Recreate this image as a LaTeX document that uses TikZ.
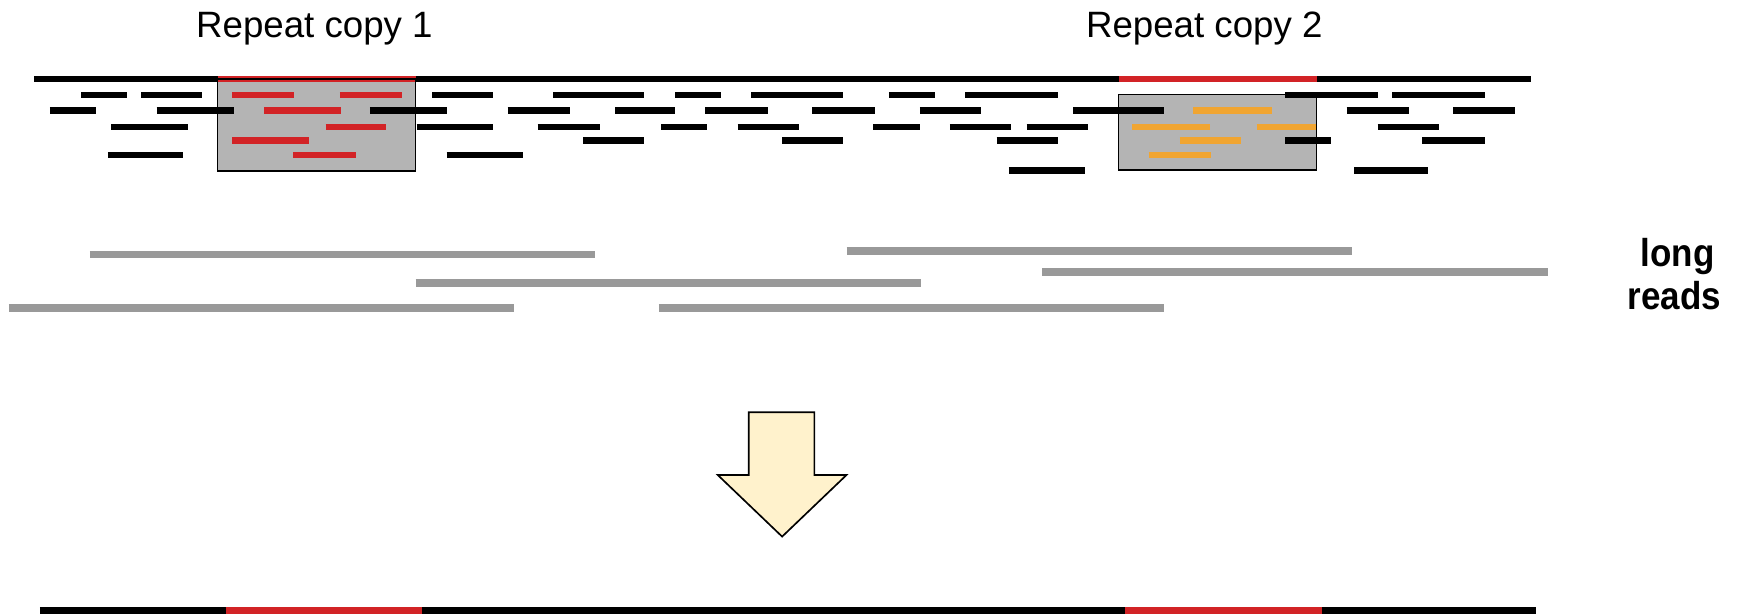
\documentclass[tikz,border=0pt]{standalone}
\usepackage{fontspec}
\setmainfont{Liberation Sans}
\definecolor{repred}{RGB}{210,35,38}
\definecolor{reporange}{RGB}{240,165,50}
\definecolor{boxgray}{RGB}{180,180,180}
\definecolor{longgray}{RGB}{153,153,153}
\definecolor{arrowfill}{RGB}{255,242,204}
\tikzset{
  genome/.style={line width=6pt, black},
  repeatseg/.style={line width=6pt, repred},
  shortread/.style={line width=5.5pt, black},
  redread/.style={line width=5.5pt, repred},
  orangeread/.style={line width=5.5pt, reporange},
  longread/.style={line width=7pt, longgray},
  boxline/.style={draw=black, line width=1.2pt},
  title/.style={font=\fontsize{33}{38}\selectfont, inner sep=0pt, anchor=base},
  sidelabel/.style={font=\fontsize{35}{40}\selectfont\bfseries, inner sep=0pt, anchor=base},
  bigarrow/.style={fill=arrowfill, draw=black, line width=1.5pt, line join=miter}
}
\begin{document}
\begin{tikzpicture}[x=1pt,y=-1pt]
\useasboundingbox (0,0) rectangle (1568,553);

% titles
\node[title] (copy1) at (283,33.5) {Repeat copy 1};
\node[title] (copy2) at (1084,33.5) {Repeat copy 2};

% repeat regions covered by short reads
\fill[boxgray] (196,71) rectangle (374,154);
\fill[boxgray] (1007,85) rectangle (1185,153);

% reference genome with the two repeat copies
\draw[genome] (31,71) -- (1378,71);
\draw[repeatseg] (196,71) -- (374,71);
\draw[repeatseg] (1007,71) -- (1185,71);

% short reads, row by row
\foreach \a/\b in {73/114,127/182,389/444,498/580,608/649,676/759,800/842,869/952,1157/1240,1253/1337}
  \draw[shortread] (\a,85.5) -- (\b,85.5);
\foreach \a/\b in {45/86,141/211,333/402,457/513,554/608,635/691,731/788,828/883,966/1048,1212/1268,1308/1364}
  \draw[shortread] (\a,99.5) -- (\b,99.5);
\foreach \a/\b in {100/169,375/444,484/540,595/636,664/719,786/828,855/910,924/979,1240/1295}
  \draw[shortread] (\a,114) -- (\b,114);
\foreach \a/\b in {525/580,704/759,897/952,1157/1198,1280/1337}
  \draw[shortread] (\a,126.5) -- (\b,126.5);
\foreach \a/\b in {97/165,402/471}
  \draw[shortread] (\a,139.5) -- (\b,139.5);
\foreach \a/\b in {908/977,1219/1285}
  \draw[shortread] (\a,153.5) -- (\b,153.5);

% reads from repeat copy 1
\foreach \a/\b/\y in {209/265/85.5,306/362/85.5,238/307/99.5,293/347/114,209/278/126.5,264/320/139.5}
  \draw[redread] (\a,\y) -- (\b,\y);
% reads from repeat copy 2
\foreach \a/\b/\y in {1074/1145/99.5,1019/1089/114,1131/1185/114,1062/1117/126.5,1034/1090/139.5}
  \draw[orangeread] (\a,\y) -- (\b,\y);

% box outlines
\draw[boxline] (196,71) rectangle (374,154);
\draw[boxline] (1007,85) rectangle (1185,153);

% long reads
\draw[longread] (81,229) -- (536,229);
\draw[longread] (762,226) -- (1217,226);
\draw[longread] (938,244.5) -- (1393,244.5);
\draw[longread] (374,255) -- (829,255);
\draw[longread] (8,277.5) -- (463,277.5);
\draw[longread] (593,277.5) -- (1048,277.5);

\node[sidelabel] (lab1) at (1510,240) {\scalebox{0.9}[1]{long}};
\node[sidelabel] (lab2) at (1507,279) {\scalebox{0.9}[1]{reads}};

% assembly arrow
\draw[bigarrow] (674,371) -- (733,371) -- (733,427.5) -- (762,427.5)
  -- (704,483) -- (646,427.5) -- (674,427.5) -- cycle;

% resolved assembly
\draw[line width=7pt, black] (36,549.5) -- (1383,549.5);
\draw[line width=7pt, repred] (203,549.5) -- (380,549.5);
\draw[line width=7pt, repred] (1013,549.5) -- (1190,549.5);
\end{tikzpicture}
\end{document}
